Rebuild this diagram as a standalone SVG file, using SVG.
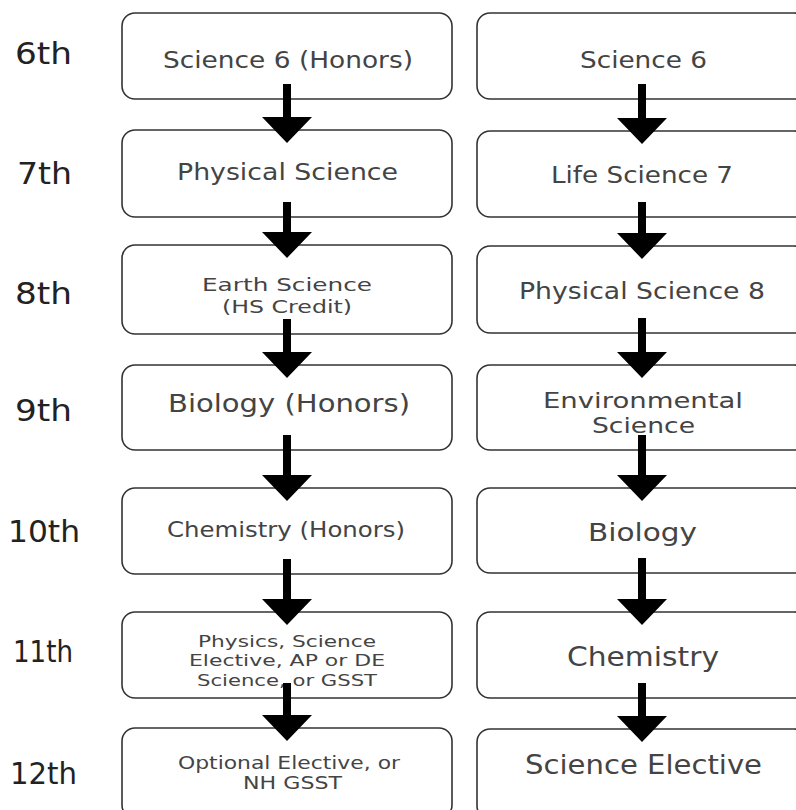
<svg xmlns="http://www.w3.org/2000/svg" width="796" height="810" viewBox="0 0 796 810">
<style>
.box{fill:#fff;stroke:#333;stroke-width:1.6}
.t{font-family:"DejaVu Sans",sans-serif;fill:#444;text-anchor:middle}
.g{font-family:"DejaVu Sans",sans-serif;fill:#222;text-anchor:middle;font-size:30px}
.arr{fill:#000}
</style>
<rect width="796" height="810" fill="#fff"/>
<g id="grades">
<text class="g" x="43.5" y="64" textLength="57" lengthAdjust="spacingAndGlyphs">6th</text>
<text class="g" x="44.5" y="184" textLength="55" lengthAdjust="spacingAndGlyphs">7th</text>
<text class="g" x="43.5" y="304" textLength="57" lengthAdjust="spacingAndGlyphs">8th</text>
<text class="g" x="43.5" y="421" textLength="57" lengthAdjust="spacingAndGlyphs">9th</text>
<text class="g" x="44" y="542" textLength="72" lengthAdjust="spacingAndGlyphs">10th</text>
<text class="g" x="43" y="662" textLength="60" lengthAdjust="spacingAndGlyphs">11th</text>
<text class="g" x="43.5" y="784" textLength="67" lengthAdjust="spacingAndGlyphs">12th</text>
</g>
<g id="L6"><rect class="box" x="122" y="13" width="330" height="86" rx="13"/>
<text class="t" x="288" y="68" font-size="23" textLength="250" lengthAdjust="spacingAndGlyphs">Science 6 (Honors)</text></g>
<g id="R6"><rect class="box" x="477" y="13" width="330" height="86" rx="13"/>
<text class="t" x="643.5" y="68" font-size="23" textLength="127" lengthAdjust="spacingAndGlyphs">Science 6</text></g>
<g id="L7"><rect class="box" x="122" y="130" width="330" height="87" rx="13"/>
<text class="t" x="287.5" y="180" font-size="23" textLength="221" lengthAdjust="spacingAndGlyphs">Physical Science</text></g>
<g id="R7"><rect class="box" x="477" y="131" width="330" height="86" rx="13"/>
<text class="t" x="642" y="183" font-size="23" textLength="182" lengthAdjust="spacingAndGlyphs">Life Science 7</text></g>
<g id="L8"><rect class="box" x="122" y="245" width="330" height="89" rx="13"/>
<text class="t" x="287" y="291" font-size="18.5" textLength="170" lengthAdjust="spacingAndGlyphs">Earth Science</text>
<text class="t" x="287" y="312.5" font-size="18.5" textLength="130" lengthAdjust="spacingAndGlyphs">(HS Credit)</text></g>
<g id="R8"><rect class="box" x="477" y="246" width="330" height="87" rx="13"/>
<text class="t" x="642" y="299" font-size="23" textLength="246" lengthAdjust="spacingAndGlyphs">Physical Science 8</text></g>
<g id="L9"><rect class="box" x="122" y="365" width="330" height="85" rx="13"/>
<text class="t" x="289" y="412" font-size="25" textLength="242" lengthAdjust="spacingAndGlyphs">Biology (Honors)</text></g>
<g id="R9"><rect class="box" x="477" y="365" width="330" height="85" rx="13"/>
<text class="t" x="643" y="408" font-size="21.5" textLength="200" lengthAdjust="spacingAndGlyphs">Environmental</text>
<text class="t" x="643.5" y="433" font-size="21.5" textLength="103" lengthAdjust="spacingAndGlyphs">Science</text></g>
<g id="L10"><rect class="box" x="122" y="488" width="330" height="86" rx="13"/>
<text class="t" x="286" y="537" font-size="21" textLength="238" lengthAdjust="spacingAndGlyphs">Chemistry (Honors)</text></g>
<g id="R10"><rect class="box" x="477" y="488" width="330" height="85" rx="13"/>
<text class="t" x="642.5" y="541" font-size="25" textLength="109" lengthAdjust="spacingAndGlyphs">Biology</text></g>
<g id="L11"><rect class="box" x="122" y="612" width="330" height="86" rx="13"/>
<text class="t" x="287" y="646.5" font-size="16.5" textLength="178" lengthAdjust="spacingAndGlyphs">Physics, Science</text>
<text class="t" x="287" y="666" font-size="16.5" textLength="196" lengthAdjust="spacingAndGlyphs">Elective, AP or DE</text>
<text class="t" x="287" y="685.5" font-size="16.5" textLength="180" lengthAdjust="spacingAndGlyphs">Science, or GSST</text></g>
<g id="R11"><rect class="box" x="477" y="612" width="330" height="86" rx="13"/>
<text class="t" x="643" y="666" font-size="26" textLength="152" lengthAdjust="spacingAndGlyphs">Chemistry</text></g>
<g id="L12"><rect class="box" x="122" y="728" width="330" height="90" rx="13"/>
<text class="t" x="289" y="768.5" font-size="17.5" textLength="222" lengthAdjust="spacingAndGlyphs">Optional Elective, or</text>
<text class="t" x="292.5" y="789" font-size="17.5" textLength="99" lengthAdjust="spacingAndGlyphs">NH GSST</text></g>
<g id="R12"><rect class="box" x="477" y="729" width="330" height="90" rx="13"/>
<text class="t" x="643.5" y="774" font-size="26" textLength="237" lengthAdjust="spacingAndGlyphs">Science Elective</text></g>
<g id="connectors" class="arr">
<path d="M283,84 V117 H262 L287,143 L312,117 H291 V84 Z"/>
<path d="M638,84 V118 H617 L642,144 L667,118 H646 V84 Z"/>
<path d="M283,202 V232 H262 L287,258 L312,232 H291 V202 Z"/>
<path d="M638,202 V233 H617 L642,259 L667,233 H646 V202 Z"/>
<path d="M283,319 V352 H262 L287,378 L312,352 H291 V319 Z"/>
<path d="M638,318 V352 H617 L642,378 L667,352 H646 V318 Z"/>
<path d="M283,435 V475 H262 L287,501 L312,475 H291 V435 Z"/>
<path d="M638,435 V475 H617 L642,501 L667,475 H646 V435 Z"/>
<path d="M283,559 V599 H262 L287,625 L312,599 H291 V559 Z"/>
<path d="M638,558 V599 H617 L642,625 L667,599 H646 V558 Z"/>
<path d="M283,683 V715 H262 L287,741 L312,715 H291 V683 Z"/>
<path d="M638,683 V716 H617 L642,742 L667,716 H646 V683 Z"/>
</g>
</svg>
